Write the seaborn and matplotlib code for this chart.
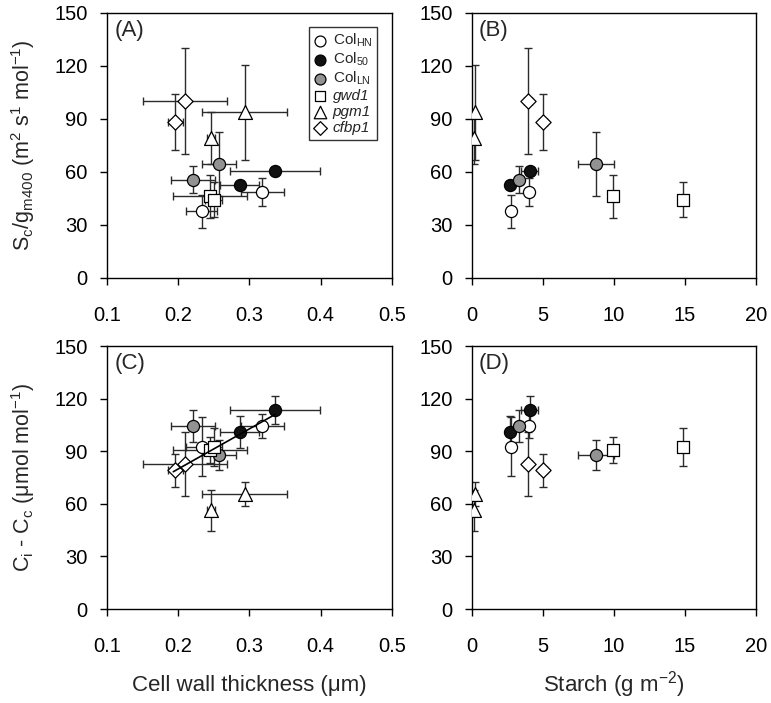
import matplotlib
matplotlib.use("Agg")
import matplotlib.pyplot as plt
import numpy as np
import pandas as pd
import seaborn as sns

# two samples per genotype / treatment
groups = ["ColHN", "ColHN", "Col50", "Col50", "ColLN", "ColLN",
          "gwd1", "gwd1", "pgm1", "pgm1", "cfbp1", "cfbp1"]
cwt = [0.318, 0.233, 0.336, 0.286, 0.257, 0.221, 0.245, 0.250, 0.293, 0.246, 0.210, 0.196]
cwt_err = [0.030, 0.022, 0.063, 0.028, 0.024, 0.031, 0.052, 0.012, 0.059, 0.006, 0.059, 0.010]
starch = [4.0, 2.75, 4.05, 2.65, 8.7, 3.3, 9.9, 14.86, 0.22, 0.16, 3.95, 5.0]
starch_err = [0.3, 0.25, 0.6, 0.2, 1.27, 0.3, 0.2, 0.2, 0.05, 0.05, 0.3, 0.3]
scgm = [48.7, 37.7, 60.8, 52.8, 64.5, 55.7, 46.2, 44.3, 93.8, 79.2, 100.4, 88.3]
scgm_err = [8.0, 9.5, 2.0, 2.0, 18.0, 7.5, 12.0, 10.0, 27.0, 14.5, 30.0, 16.0]
cicc = [104.4, 92.6, 113.3, 101.1, 87.9, 104.4, 90.7, 92.6, 65.5, 56.2, 82.7, 79.1]
cicc_err = [7.0, 17.0, 8.0, 9.0, 8.5, 9.0, 7.6, 10.8, 7.0, 11.7, 18.0, 9.5]

# trend line in panel C
trend_x = [0.193, 0.336]
trend_y = [78.3, 111.0]

order = ["ColHN", "Col50", "ColLN", "gwd1", "pgm1", "cfbp1"]
legend_labels = {
    "ColHN": r"Col$_\mathregular{HN}$",
    "Col50": r"Col$_\mathregular{50}$",
    "ColLN": r"Col$_\mathregular{LN}$",
    "gwd1": "gwd1",
    "pgm1": "pgm1",
    "cfbp1": "cfbp1",
}
markers = {"ColHN": "o", "Col50": "o", "ColLN": "o", "gwd1": "s", "pgm1": "^", "cfbp1": "D"}
faces = {"ColHN": "white", "Col50": "#111111", "ColLN": "#929292",
         "gwd1": "white", "pgm1": "white", "cfbp1": "white"}
sizes = {"ColHN": 76, "Col50": 76, "ColLN": 76, "gwd1": 76, "pgm1": 100, "cfbp1": 60}

df = pd.DataFrame({
    "group": groups, "cwt": cwt, "cwt_err": cwt_err,
    "starch": starch, "starch_err": starch_err,
    "scgm": scgm, "scgm_err": scgm_err,
    "cicc": cicc, "cicc_err": cicc_err,
})

sns.set_style("ticks")
plt.rcParams["font.family"] = ["Liberation Sans", "DejaVu Sans"]
plt.rcParams["mathtext.fontset"] = "custom"
plt.rcParams["mathtext.rm"] = "Liberation Sans"
plt.rcParams["mathtext.it"] = "Liberation Sans:italic"

fig = plt.figure(figsize=(7.71, 7.03), dpi=100)
axA = fig.add_axes([0.1388, 0.6046, 0.3696, 0.3770])
axB = fig.add_axes([0.6122, 0.6046, 0.3684, 0.3770])
axC = fig.add_axes([0.1388, 0.1337, 0.3696, 0.3741])
axD = fig.add_axes([0.6122, 0.1337, 0.3684, 0.3741])


def draw(ax, xcol, ycol):
    for g in order:
        d = df[df.group == g]
        ax.errorbar(d[xcol], d[ycol], xerr=d[xcol + "_err"], yerr=d[ycol + "_err"],
                    fmt="none", ecolor="#2b2b2b", elinewidth=1.0, capsize=2.6,
                    capthick=1.0, zorder=2)
        sns.scatterplot(data=d, x=xcol, y=ycol, marker=markers[g], s=sizes[g],
                        color=faces[g], edgecolor="black", linewidth=0.9,
                        ax=ax, zorder=3, label=legend_labels[g], legend=False)


draw(axA, "cwt", "scgm")
draw(axB, "starch", "scgm")
draw(axC, "cwt", "cicc")
draw(axD, "starch", "cicc")
sns.lineplot(x=trend_x, y=trend_y, color="black", linewidth=1.2, ax=axC,
             zorder=4, legend=False)

for ax, letter in zip([axA, axB, axC, axD], ["(A)", "(B)", "(C)", "(D)"]):
    ax.set_ylim(0, 150)
    ax.set_yticks([0, 30, 60, 90, 120, 150])
    for sp in ax.spines.values():
        sp.set_visible(True)
        sp.set_linewidth(1.0)
        sp.set_color("black")
    ax.tick_params(axis="both", direction="out", length=5, width=1.0,
                   labelsize=14.5, colors="black")
    ax.tick_params(axis="x", pad=15)
    ax.tick_params(axis="y", pad=9)
    ax.set_xlabel("")
    ax.set_ylabel("")
    ax.text(0.025, 0.975, letter, transform=ax.transAxes, ha="left", va="top",
            fontsize=16)
    lg = ax.get_legend()
    if lg is not None:
        lg.remove()

for ax in [axA, axC]:
    ax.set_xlim(0.1, 0.5)
    ax.set_xticks([0.1, 0.2, 0.3, 0.4, 0.5])
for ax in [axB, axD]:
    ax.set_xlim(0, 20)
    ax.set_xticks([0, 5, 10, 15, 20])

axA.set_ylabel(r"S$_\mathregular{c}$/g$_\mathregular{m400}$ (m$^\mathregular{2}$ s$^\mathregular{1}$ mol$^\mathregular{-1}$)",
               fontsize=15.5)
axC.set_ylabel(r"C$_\mathregular{i}$ - C$_\mathregular{c}$ (μmol mol$^\mathregular{-1}$)", fontsize=15.5)
axC.set_xlabel("Cell wall thickness (μm)", fontsize=16)
axD.set_xlabel(r"Starch (g m$^\mathregular{-2}$)", fontsize=16)
for ax in [axA, axC]:
    ax.yaxis.set_label_coords(-0.245, 0.5)
axC.xaxis.set_label_coords(0.5, -0.25)
axD.xaxis.set_label_coords(0.5, -0.228)

handles, labels = axA.get_legend_handles_labels()
leg = axA.legend(handles, labels, loc="upper right", bbox_to_anchor=(0.947, 0.947),
                 borderaxespad=0, fontsize=11, markerscale=0.9, handlelength=0.9,
                 handletextpad=0.35, labelspacing=0.12, borderpad=0.3,
                 frameon=True, fancybox=False, shadow=False)
leg.get_frame().set_edgecolor("black")
leg.get_frame().set_linewidth(1.0)
for t in leg.get_texts():
    if t.get_text() in ("gwd1", "pgm1", "cfbp1"):
        t.set_fontstyle("italic")

fig.savefig("out.png", dpi=100)
